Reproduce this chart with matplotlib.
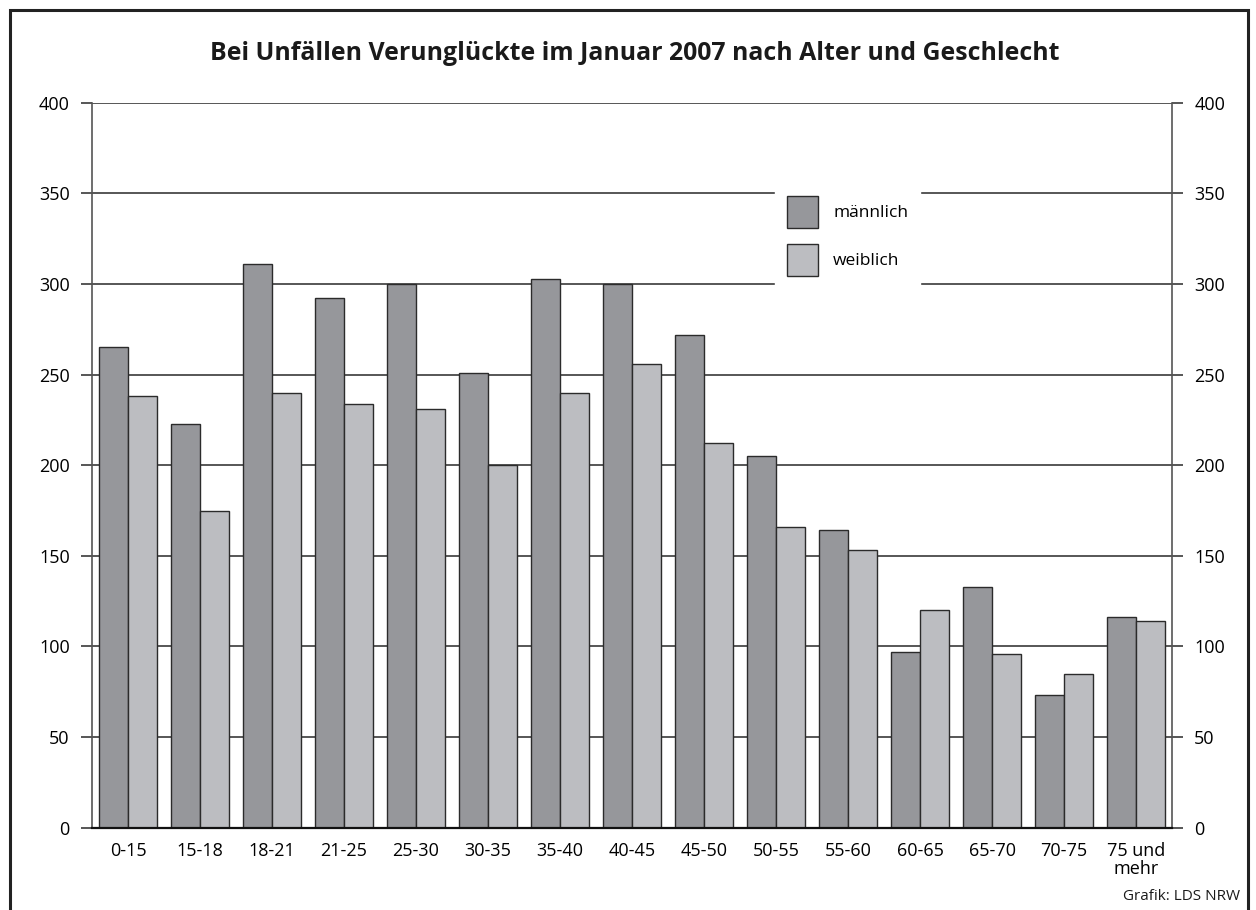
import numpy as np
import matplotlib
matplotlib.use("Agg")
import matplotlib.pyplot as plt
from matplotlib.patches import Rectangle

# ===========================
# DATA
# ===========================
age_groups = ["0-15", "15-18", "18-21", "21-25", "25-30", "30-35", "35-40", "40-45",
              "45-50", "50-55", "55-60", "60-65", "65-70", "70-75", "75 und\nmehr"]
maennlich = [265, 223, 311, 292, 300, 251, 303, 300, 272, 205, 164, 97, 133, 73, 116]
weiblich = [238, 175, 240, 234, 231, 200, 240, 256, 212, 166, 153, 120, 96, 85, 114]
y_ticks = [0, 50, 100, 150, 200, 250, 300, 350, 400]

TITLE = "Bei Unfällen Verunglückte im Januar 2007 nach Alter und Geschlecht"
SOURCE = "Grafik: LDS NRW"

# ===========================
# STYLE
# ===========================
plt.rcParams["font.family"] = ["Open Sans", "DejaVu Sans"]
COLOR_M = "#96979b"
COLOR_W = "#bcbdc1"
EDGE = "#2b2b2b"
GRID = "#3a3a3a"

W, H = 1256, 910
fig = plt.figure(figsize=(W / 100, H / 100), dpi=100)

# outer frame (bottom edge runs off the picture)
fig.patches.append(Rectangle((10 / W, -0.05), 1238 / W, 1.05 - 10 / H,
                             transform=fig.transFigure, fill=False,
                             edgecolor="#222222", linewidth=2.2))

ax = fig.add_axes([92 / W, 1 - 827.7 / H, (1172 - 92) / W, (827.7 - 102.7) / H])

x = np.arange(len(age_groups))
bw = 0.4
ax.bar(x - bw / 2, maennlich, bw, color=COLOR_M, edgecolor=EDGE, linewidth=1.0,
       label="männlich", zorder=3)
ax.bar(x + bw / 2, weiblich, bw, color=COLOR_W, edgecolor=EDGE, linewidth=1.0,
       label="weiblich", zorder=3)

ax.set_xlim(-0.5, len(age_groups) - 0.5)
ax.set_ylim(0, 400)
ax.set_yticks(y_ticks)
ax.set_xticks(x)
ax.set_xticklabels(age_groups, fontsize=13, linespacing=1.0)
ax.tick_params(axis="x", length=0, pad=10)
ax.tick_params(axis="y", direction="out", length=8, width=1.2, color=GRID,
               labelsize=13, pad=8, right=True, labelright=True)

for val in y_ticks[1:]:
    ax.axhline(val, color=GRID, linewidth=1.2, zorder=1)

ax.spines["top"].set_visible(False)
ax.spines["left"].set_color("#555555")
ax.spines["right"].set_color("#555555")
ax.spines["left"].set_linewidth(1.2)
ax.spines["right"].set_linewidth(1.2)
ax.spines["bottom"].set_color("#111111")
ax.spines["bottom"].set_linewidth(1.6)
ax.spines["bottom"].set_zorder(4)

# legend: white box that interrupts the 300/350 grid lines
leg = ax.legend(loc="upper left", bbox_to_anchor=(775 / W, 1 - 184 / H),
                bbox_transform=fig.transFigure, fontsize=12.5, frameon=True,
                facecolor="white", edgecolor="white", framealpha=1.0,
                fancybox=False, borderaxespad=0, borderpad=0.7,
                handlelength=1.75, handleheight=2.45, handletextpad=0.9,
                labelspacing=0.9)
leg.set_zorder(5)

fig.text(635 / W, 1 - 53 / H, TITLE, ha="center", va="center",
         fontsize=17.9, fontweight="bold", color="#1a1a1a")
fig.text(1240 / W, 1 - 897 / H, SOURCE, ha="right", va="center",
         fontsize=11, color="#1a1a1a")

fig.savefig("out.png", dpi=100, facecolor="white")
